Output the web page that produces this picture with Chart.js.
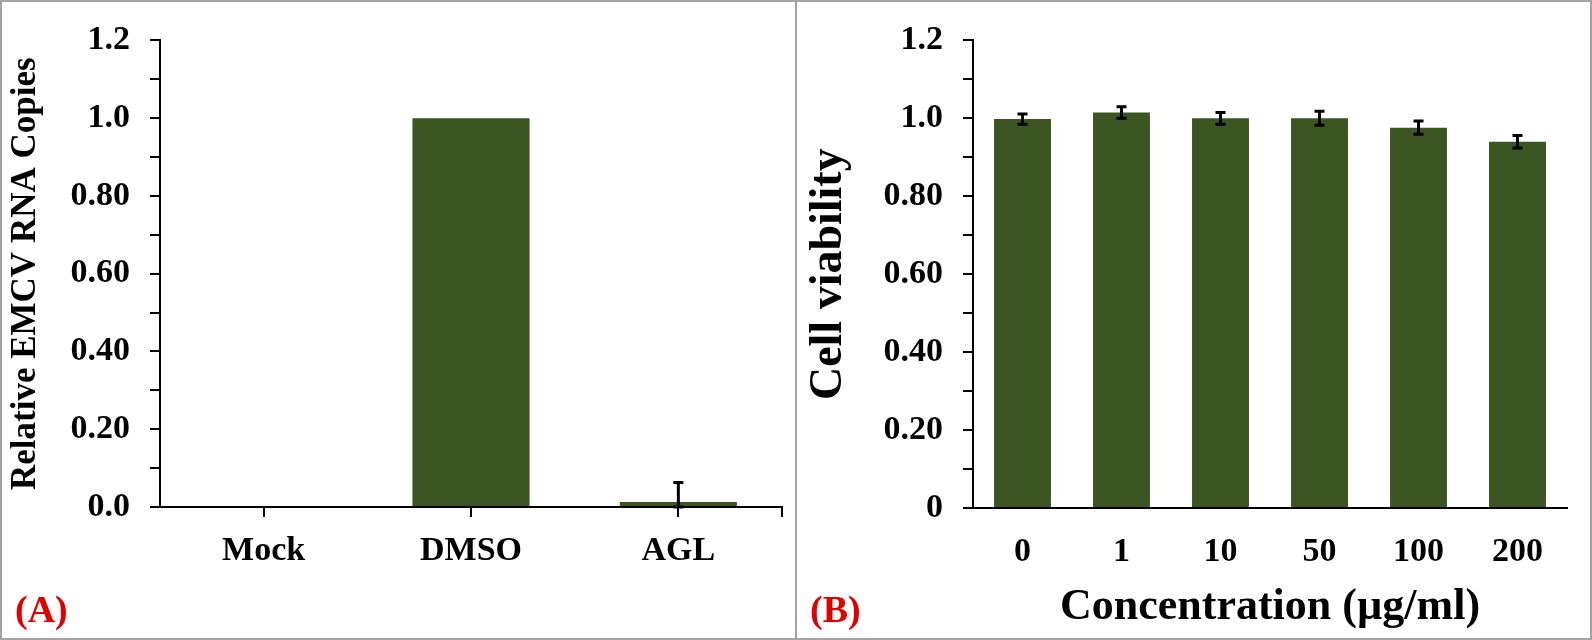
<!DOCTYPE html>
<html>
<head>
<meta charset="utf-8">
<script src="https://cdn.jsdelivr.net/npm/chart.js@4/dist/chart.umd.min.js"></script>
<style>
  body { margin: 0; background: #fff; }
  #wrap { position: relative; width: 1592px; height: 640px; overflow: hidden; }
  .panel { position: absolute; top: 0; height: 640px; box-sizing: border-box; border: 2px solid #a3a3a3; }
  canvas { position: absolute; top: 0; }
</style>
</head>
<body>
<div id="wrap">
  <div class="panel" style="left:0;width:797px;"></div>
  <div class="panel" style="left:795px;width:797px;"></div>
  <canvas id="chartA" width="796" height="640" style="left:0"></canvas>
  <canvas id="chartB" width="796" height="640" style="left:796px"></canvas>
</div>
<script>
// panel A
const groupsA = ["Mock", "DMSO", "AGL"]
const valuesA = [0, 1.0, 0.013]
const errorsA = [0, 0, 0.05]
const yLabelsA = ["0.0", "0.20", "0.40", "0.60", "0.80", "1.0", "1.2"]

// panel B
const concB = ["0", "1", "10", "50", "100", "200"]
const valuesB = [0.998, 1.015, 1.0, 1.0, 0.976, 0.94]
const errorsB = [0.013, 0.015, 0.015, 0.018, 0.017, 0.016]
const yLabelsB = ["0", "0.20", "0.40", "0.60", "0.80", "1.0", "1.2"]

const serif = '"Liberation Serif", "Times New Roman", serif'
const barColor = "#3b5623"

const errorBars = {
  id: "errorBars",
  afterDatasetsDraw(chart, args, opts) {
    const ctx = chart.ctx
    const meta = chart.getDatasetMeta(0)
    const y = chart.scales.y
    const vals = chart.data.datasets[0].data
    ctx.save()
    ctx.strokeStyle = "#000"
    ctx.lineWidth = 3
    opts.err.forEach((e, i) => {
      if (!e) return
      const x = meta.data[i].x
      const top = y.getPixelForValue(vals[i] + e)
      const bot = y.getPixelForValue(Math.max(0, vals[i] - e))
      ctx.beginPath()
      ctx.moveTo(x, top); ctx.lineTo(x, bot)
      ctx.moveTo(x - 5, top); ctx.lineTo(x + 5, top)
      ctx.moveTo(x - 5, bot); ctx.lineTo(x + 5, bot)
      ctx.stroke()
    })
    ctx.restore()
  },
}

const panelLabel = {
  id: "panelLabel",
  afterDraw(chart, args, opts) {
    const ctx = chart.ctx
    ctx.save()
    ctx.font = "bold 38px " + serif
    ctx.fillStyle = "#e00000"
    ctx.textAlign = "left"
    ctx.textBaseline = "middle"
    ctx.fillText(opts.text, opts.x, 612)
    if (opts.endTick) {
      const a = chart.chartArea
      ctx.strokeStyle = "#000"
      ctx.lineWidth = 2
      ctx.beginPath()
      ctx.moveTo(a.right, a.bottom)
      ctx.lineTo(a.right, a.bottom + 10)
      ctx.stroke()
    }
    ctx.restore()
  },
}

function makeChart(id, labels, values, errs, yLabels, opt) {
  return new Chart(document.getElementById(id), {
    type: "bar",
    data: {
      labels: labels,
      datasets: [{
        data: values,
        backgroundColor: barColor,
        borderWidth: 0,
        barPercentage: opt.barPct,
        categoryPercentage: 1,
      }],
    },
    options: {
      responsive: false,
      animation: false,
      layout: { padding: { left: 0, right: opt.right, top: 31, bottom: 0 } },
      plugins: {
        legend: { display: false },
        tooltip: { enabled: false },
        errorBars: { err: errs },
        panelLabel: { text: opt.tag, x: opt.tagX, endTick: opt.endTick },
      },
      scales: {
        x: {
          offset: true,
          grid: {
            offset: false,
            drawOnChartArea: false,
            tickLength: 10,
            lineWidth: 2,
            color: opt.xTicks ? "#000" : "rgba(0,0,0,0)",
          },
          border: { color: "#000", width: 2 },
          ticks: { color: "#000", padding: 14, font: { family: serif, size: 34, weight: "bold" } },
          title: {
            display: !!opt.xTitle,
            text: opt.xTitle,
            color: "#000",
            padding: { top: 0, bottom: 6 },
            font: { family: serif, size: 44, weight: "bold" },
          },
          afterFit(s) { s.height = opt.xHeight },
        },
        y: {
          min: 0,
          max: 1.2,
          grid: { drawOnChartArea: false, tickLength: 10, lineWidth: 2, color: "#000" },
          border: { color: "#000", width: 2 },
          ticks: {
            stepSize: 0.1,
            autoSkip: false,
            color: "#000",
            padding: 20,
            font: { family: serif, size: 34, weight: "bold" },
            callback: (v, i) => (i % 2 ? "" : yLabels[i / 2]),
          },
          title: {
            display: true,
            text: opt.yTitle,
            color: "#000",
            padding: { top: opt.yTitlePad, bottom: 0 },
            font: { family: serif, size: opt.yTitleSize, weight: "bold" },
          },
          afterFit(s) { s.width = opt.yWidth },
        },
      },
    },
    plugins: [errorBars, panelLabel],
  })
}

makeChart("chartA", groupsA, valuesA, errorsA, yLabelsA, {
  barPct: 0.565, right: 14, tag: "(A)", tagX: 15, endTick: true, xTicks: true,
  xTitle: "", xHeight: 133, yTitle: "Relative EMCV RNA Copies", yTitleSize: 35, yTitlePad: 5, yWidth: 160,
})

makeChart("chartB", concB, valuesB, errorsB, yLabelsB, {
  barPct: 0.575, right: 25, tag: "(B)", tagX: 14, endTick: false, xTicks: false,
  xTitle: "Concentration (µg/ml)", xHeight: 132, yTitle: "Cell viability", yTitleSize: 46, yTitlePad: 6, yWidth: 177,
})
</script>
</body>
</html>
